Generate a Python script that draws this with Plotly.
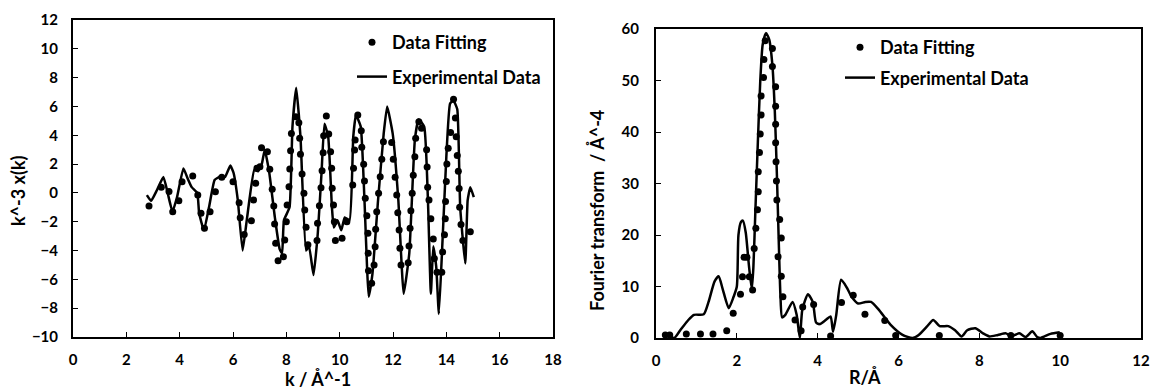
import plotly.graph_objects as go

# ---------------- Left panel: k-space ----------------
k_exp = [2.77, 2.93, 3.15, 3.39, 3.55, 3.73, 3.9, 4.14, 4.3, 4.45, 4.66, 4.73, 4.91, 5.1, 5.31,
         5.49, 5.7, 5.9, 6.02, 6.18, 6.36, 6.53, 6.8, 6.94, 7.08, 7.19, 7.36, 7.57, 7.75, 7.84,
         7.91, 8.12, 8.23, 8.37, 8.53, 8.74, 8.85, 9.02, 9.18, 9.32, 9.43, 9.57, 9.71, 9.78, 9.92,
         10.06, 10.19, 10.37, 10.51, 10.61, 10.79, 10.93, 11.09, 11.23, 11.44, 11.65, 11.78, 11.99,
         12.2, 12.4, 12.61, 12.82, 12.96, 13.17, 13.31, 13.42, 13.51, 13.62, 13.72, 13.86, 14.0,
         14.14, 14.27, 14.41, 14.52, 14.71, 14.8, 14.9, 15.03]
chi_exp = [-0.15, -0.55, 0.2, 1.1, 0.0, -1.3, -0.3, 1.7, 1.0, 0.4, 0.0, -1.4, -2.6, -1.0, 0.9,
           1.1, 1.1, 1.9, 1.4, -0.5, -4.0, -1.7, 1.6, 1.5, 2.0, 3.0, 1.4, -1.7, -3.9, -4.2,
           -1.9, -1.0, 4.6, 7.3, 3.9, -4.0, -3.7, -5.7, -2.8, 1.4, 4.8, 3.9, -1.0, -2.4, -1.9,
           -2.6, -1.7, -1.9, 3.9, 5.4, 4.6, -0.5, -7.2, -5.6, -0.5, 4.1, 6.0, 4.1,
           -0.5, -7.0, -4.2, 3.7, 5.1, 4.6, -0.5, -7.0, -3.7, -5.1, -8.4, -3.2, 2.5,
           6.2, 6.4, 5.8, -1.0, -4.9, -0.5, 0.4, -0.3]

k_fit = [2.85, 3.31, 3.6, 3.74, 3.97, 4.09, 4.49, 4.68, 4.8, 4.93, 5.14, 5.34, 5.58, 6.0,
         6.23, 6.27, 6.42, 6.69, 6.77, 6.85, 6.9, 7.01, 7.07, 7.29, 7.38, 7.47, 7.53, 7.56, 7.6,
         7.69, 7.89, 7.94, 8.0, 8.03, 8.1, 8.13, 8.16, 8.19, 8.35, 8.47, 8.5, 8.53, 8.59, 8.66,
         8.69, 8.74, 8.81, 9.15, 9.17, 9.24, 9.3, 9.34, 9.38, 9.4, 9.5, 9.59, 9.66, 9.7, 9.72,
         9.77, 9.8, 9.84, 10.09, 10.27, 10.49, 10.52, 10.56, 10.58, 10.68, 10.81, 10.83, 10.9,
         10.93, 10.96, 11.02, 11.06, 11.07, 11.08, 11.2, 11.29, 11.33, 11.35, 11.39, 11.46,
         11.52, 11.58, 11.64, 11.95, 12.01, 12.08, 12.14, 12.18, 12.23, 12.26, 12.3, 12.57,
         12.6, 12.64, 12.67, 12.72, 12.76, 12.82, 12.85, 12.97, 13.07, 13.26, 13.28, 13.3,
         13.35, 13.42, 13.51, 13.55, 13.65, 13.83, 13.86, 13.93, 13.96, 13.97, 14.0, 14.02,
         14.07, 14.16, 14.27, 14.34, 14.37, 14.41, 14.45, 14.48, 14.5, 14.55, 14.62, 14.9]
chi_fit = [-0.9, 0.39, 0.09, -1.3, -0.54, 0.78, 1.17, -0.14, -1.42, -2.46, -1.3, 0.08, 1.08, 0.78,
           -0.68, -1.72, -2.88, -1.93, -0.49, 0.67, 1.71, 1.82, 3.14, 2.86, 1.64, 0.25, -0.91, -2.16, -3.5,
           -4.7, -4.43, -3.27, -2.0, -0.84, 0.43, 1.66, 2.93, 4.13, 5.29, 4.87, 3.79, 2.68, 1.31, -0.03,
           -1.19, -2.39, -3.6, -3.3, -2.1, -0.89, 0.36, 1.54, 2.79, 3.97, 5.34, 4.09, 2.86, 1.71, 0.32,
           -0.84, -2.0, -3.31, -3.15, -2.0, 0.55, 1.71, 2.98, 3.67, 5.41, 4.32, 3.17, 1.99,
           0.83, -0.37, -1.58, -2.8, -4.19, -5.4, -6.27, -5.0, -3.73, -2.52, -1.3, -0.03,
           1.13, 2.33, 3.55, 3.49, 2.33, 1.08, -0.14, -1.37, -2.57, -3.84, -5.0, -4.84,
           -3.68, -2.46, -1.23, -0.03, 1.22, 2.51, 3.79, 4.94, 4.48, 3.0, 1.8, 0.4,
           -0.5, -1.8, -3.2, -4.55, -5.5, -5.5, -4.1, -2.9, -1.8, -0.6, 0.8, 2.0,
           3.1, 4.2, 6.5, 5.2, 3.9, 2.6, 1.5, 0.3, -1.0, -2.2, -3.3, -2.7]

# ---------------- Right panel: R-space ----------------
r_exp = [0.2, 0.3, 0.45, 0.6, 0.8, 0.94, 1.18, 1.3, 1.45, 1.55, 1.65, 1.8, 1.92, 2.0, 2.04, 2.1,
         2.15, 2.22, 2.3, 2.37, 2.41, 2.46, 2.52, 2.58, 2.64, 2.72, 2.8, 2.88, 2.94, 2.99, 3.04,
         3.08, 3.12, 3.2, 3.38, 3.48, 3.56, 3.62, 3.76, 3.88, 3.96, 4.05, 4.2, 4.32, 4.38, 4.46,
         4.58, 4.72, 4.84, 5.0, 5.18, 5.32, 5.5, 5.8, 6.1, 6.35, 6.5, 6.7, 6.86, 7.02, 7.23, 7.4,
         7.56, 7.7, 7.9, 8.09, 8.25, 8.46, 8.66, 8.78, 8.99, 9.15, 9.31, 9.43, 9.51, 9.76, 9.99]
ft_exp = [0.5, 0.6, 0.0, 1.5, 3.5, 4.5, 4.6, 7.0, 11.0, 12.0, 9.5, 5.8, 8.0, 10.0, 20.0, 22.5,
          22.8, 20.5, 14.0, 9.5, 13.8, 25.0, 38.0, 50.0, 57.0, 59.2, 58.0, 53.0, 44.0, 32.0, 18.0,
          8.0, 4.0, 4.5, 7.0, 4.5, 0.0, 5.5, 8.5, 7.0, 3.0, 2.7, 3.5, 4.2, 1.2, 4.5,
          11.3, 9.8, 8.0, 6.7, 7.0, 7.0, 5.6, 2.6, 0.6, 0.0, 0.6, 2.2, 3.5, 2.3, 2.3, 1.5,
          0.3, 1.5, 1.9, 0.9, 0.3, 0.6, 0.9, 0.3, 0.9, 0.2, 1.3, 0.2, 0.0, 0.8, 1.1]

r_fit = [0.23, 0.34, 0.75, 1.1, 1.41, 1.75, 1.91, 2.09, 2.14, 2.18, 2.25, 2.31, 2.39, 2.43, 2.47,
         2.51, 2.53, 2.53, 2.56, 2.58, 2.6, 2.6, 2.66, 2.67, 2.7, 2.88, 2.88, 2.96, 2.96, 2.96,
         2.96, 2.97, 2.98, 2.99, 3.06, 3.1, 3.02, 3.1, 3.14, 3.44, 3.59, 3.63, 3.9, 4.32, 4.59,
         4.88, 5.17, 5.66, 5.93, 7.01, 8.78, 10.0]
ft_fit = [0.6, 0.6, 0.8, 0.8, 0.8, 1.4, 4.8, 8.5, 11.9, 15.7, 15.7, 11.9, 9.3, 17.4, 21.3,
          24.9, 28.4, 32.3, 36.0, 39.6, 43.3, 47.0, 50.6, 54.1, 57.7, 56.2, 52.7, 48.8, 45.0, 41.5,
          37.9, 34.2, 30.5, 26.8, 23.0, 19.4, 15.8, 12.0, 8.0, 3.5, 1.4, 6.0, 6.5, 0.4, 6.9,
          8.3, 4.6, 3.4, 0.5, 0.5, 0.5, 0.5]

LEG_FIT = "Data Fitting"
LEG_EXP = "Experimental Data"
K_TICKS = list(range(0, 19, 2))
CHI_TICKS = list(range(-10, 13, 2))
R_TICKS = list(range(0, 13, 2))
FT_TICKS = list(range(0, 61, 10))

# the page's body margin is removed (post_script), so the figure fills the window
W, H = 1155, 390


def px(x):
    return x / W


def py(y):
    return 1 - y / H


FONT = "Lato"
fig = go.Figure()

fig.add_trace(go.Scatter(x=k_fit, y=chi_fit, mode="markers", name=LEG_FIT,
                         marker=dict(color="black", size=7), xaxis="x", yaxis="y",
                         legend="legend", legendgroup="a"))
fig.add_trace(go.Scatter(x=k_exp, y=chi_exp, mode="lines", name=LEG_EXP,
                         line=dict(color="black", width=2.5, shape="spline", smoothing=0.4),
                         xaxis="x", yaxis="y", legend="legend", legendgroup="b"))
fig.add_trace(go.Scatter(x=r_fit, y=ft_fit, mode="markers", name=LEG_FIT,
                         marker=dict(color="black", size=7), xaxis="x2", yaxis="y2",
                         legend="legend2", legendgroup="c"))
fig.add_trace(go.Scatter(x=r_exp, y=ft_exp, mode="lines", name=LEG_EXP,
                         line=dict(color="black", width=2.5, shape="spline", smoothing=0.6),
                         xaxis="x2", yaxis="y2", legend="legend2", legendgroup="d"))

tickfont = dict(family=FONT, size=15, color="black", weight="bold")
axis_common = dict(showgrid=False, zeroline=False, showline=True, linecolor="black", linewidth=2,
                   mirror=True, ticks="inside", ticklen=5, tickcolor="black", tickwidth=1,
                   tickfont=tickfont, automargin=False)
title_font = dict(family=FONT, size=18, color="black", weight="bold")
leg_font = dict(family=FONT, size=18, color="black", weight="bold")

fig.update_layout(
    template="none",
    width=W, height=H,
    margin=dict(l=0, r=0, t=0, b=0, autoexpand=False),
    paper_bgcolor="white", plot_bgcolor="white",
    showlegend=True,
    xaxis=dict(domain=[px(73), px(553)], range=[0, 18], tickvals=K_TICKS,
               anchor="y", ticklabelstandoff=8, **axis_common),
    yaxis=dict(domain=[py(337), py(20)], range=[-10, 12], tickvals=CHI_TICKS,
               anchor="x", ticklabelstandoff=10, **axis_common),
    xaxis2=dict(domain=[px(656), px(1141)], range=[0, 12], tickvals=R_TICKS,
                anchor="y2", ticklabelstandoff=8, **axis_common),
    yaxis2=dict(domain=[py(338), py(29)], range=[0, 60], tickvals=FT_TICKS,
                anchor="x2", ticklabelstandoff=12, **axis_common),
    legend=dict(x=px(352), y=py(24), xanchor="left", yanchor="top",
                bgcolor="rgba(0,0,0,0)", traceorder="grouped", tracegroupgap=8,
                font=leg_font),
    legend2=dict(x=px(840), y=py(29), xanchor="left", yanchor="top",
                 bgcolor="rgba(0,0,0,0)", traceorder="grouped", tracegroupgap=4,
                 font=leg_font),
    annotations=[
        dict(text="k^-3 x(k)", x=px(18), y=py(191), xref="paper", yref="paper",
             xanchor="center", yanchor="middle", textangle=-90, showarrow=False, font=title_font),
        dict(text="k / Å^-1", x=px(318), y=py(379), xref="paper", yref="paper",
             xanchor="center", yanchor="middle", showarrow=False, font=title_font),
        dict(text="Fourier transform  / Å^-4", x=px(597), y=py(210), xref="paper", yref="paper",
             xanchor="center", yanchor="middle", textangle=-90, showarrow=False, font=title_font),
        dict(text="R/Å", x=px(865), y=py(377), xref="paper", yref="paper",
             xanchor="center", yanchor="middle", showarrow=False, font=title_font),
    ],
)

fig.write_html(
    "out.html",
    config={"displayModeBar": False},
    post_script="document.body.style.margin='0';document.body.style.overflow='hidden';",
)
